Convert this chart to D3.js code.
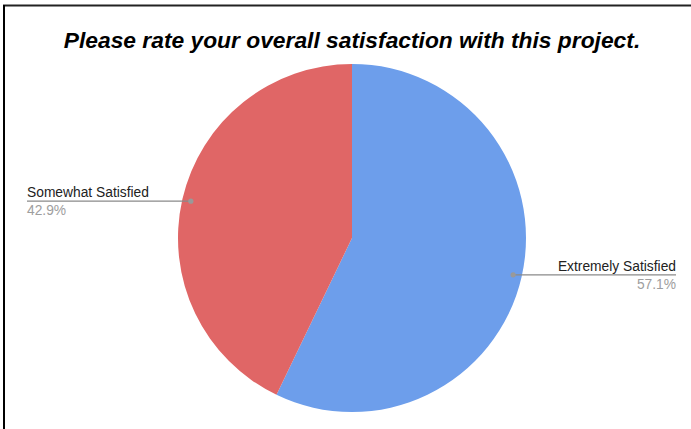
<!DOCTYPE html>
<html>
<head>
<meta charset="utf-8">
<script src="https://cdn.jsdelivr.net/npm/d3@7"></script>
<style>
  html, body { margin: 0; padding: 0; background: #fff; }
  svg { display: block; font-family: Arial, "Liberation Sans", sans-serif; }
</style>
</head>
<body>
<svg id="chart" width="691" height="429"></svg>
<script>
// Survey responses
const categories = ["Extremely Satisfied", "Somewhat Satisfied"];
const counts = [4, 3];
const colors = ["#6d9eeb", "#e06666"];
const titleText = "Please rate your overall satisfaction with this project.";

const W = 691, H = 429;
const cx = 352, cy = 238, R = 174;

const svg = d3.select("#chart");

// frame lines along the top and left edge
svg.append("line").attr("x1", 3).attr("x2", W).attr("y1", 5.5).attr("y2", 5.5)
  .attr("stroke", "#222").attr("stroke-width", 2);
svg.append("line").attr("x1", 4).attr("x2", 4).attr("y1", 5).attr("y2", H)
  .attr("stroke", "#000").attr("stroke-width", 2);

svg.append("text")
  .attr("x", cx).attr("y", 48)
  .attr("text-anchor", "middle")
  .attr("font-size", 22.8).attr("font-weight", "bold").attr("font-style", "italic")
  .attr("fill", "#000")
  .text(titleText);

const data = categories.map((c, i) => ({ name: c, value: counts[i], color: colors[i] }));
const total = d3.sum(counts);
const pie = d3.pie().value(d => d.value).sort(null);
const arcs = pie(data);
const arc = d3.arc().innerRadius(0).outerRadius(R);

const g = svg.append("g").attr("transform", `translate(${cx},${cy})`);
g.selectAll("path.slice").data(arcs).join("path")
  .attr("class", "slice")
  .attr("d", arc)
  .attr("fill", d => d.data.color);

// leader lines and labels
const anchorArc = d3.arc().innerRadius(R * 0.95).outerRadius(R * 0.95);
const labelX = { right: 676, left: 27 };

arcs.forEach(a => {
  const [px, py] = anchorArc.centroid(a);
  const ax = cx + px, ay = cy + py;
  const right = ax > cx;
  const endX = right ? labelX.right : labelX.left;
  svg.append("line")
    .attr("x1", ax).attr("y1", ay).attr("x2", endX).attr("y2", ay)
    .attr("stroke", "#8a8a8a").attr("stroke-width", 1.3);
  svg.append("circle").attr("cx", ax).attr("cy", ay).attr("r", 2.6).attr("fill", "#999");
  const anchor = right ? "end" : "start";
  svg.append("text")
    .attr("x", endX).attr("y", ay - 4)
    .attr("text-anchor", anchor)
    .attr("font-size", 13.8).attr("fill", "#222")
    .text(a.data.name);
  svg.append("text")
    .attr("x", endX).attr("y", ay + 14)
    .attr("text-anchor", anchor)
    .attr("font-size", 13.8).attr("fill", "#9e9e9e")
    .text(d3.format(".1%")(a.data.value / total));
});
</script>
</body>
</html>
